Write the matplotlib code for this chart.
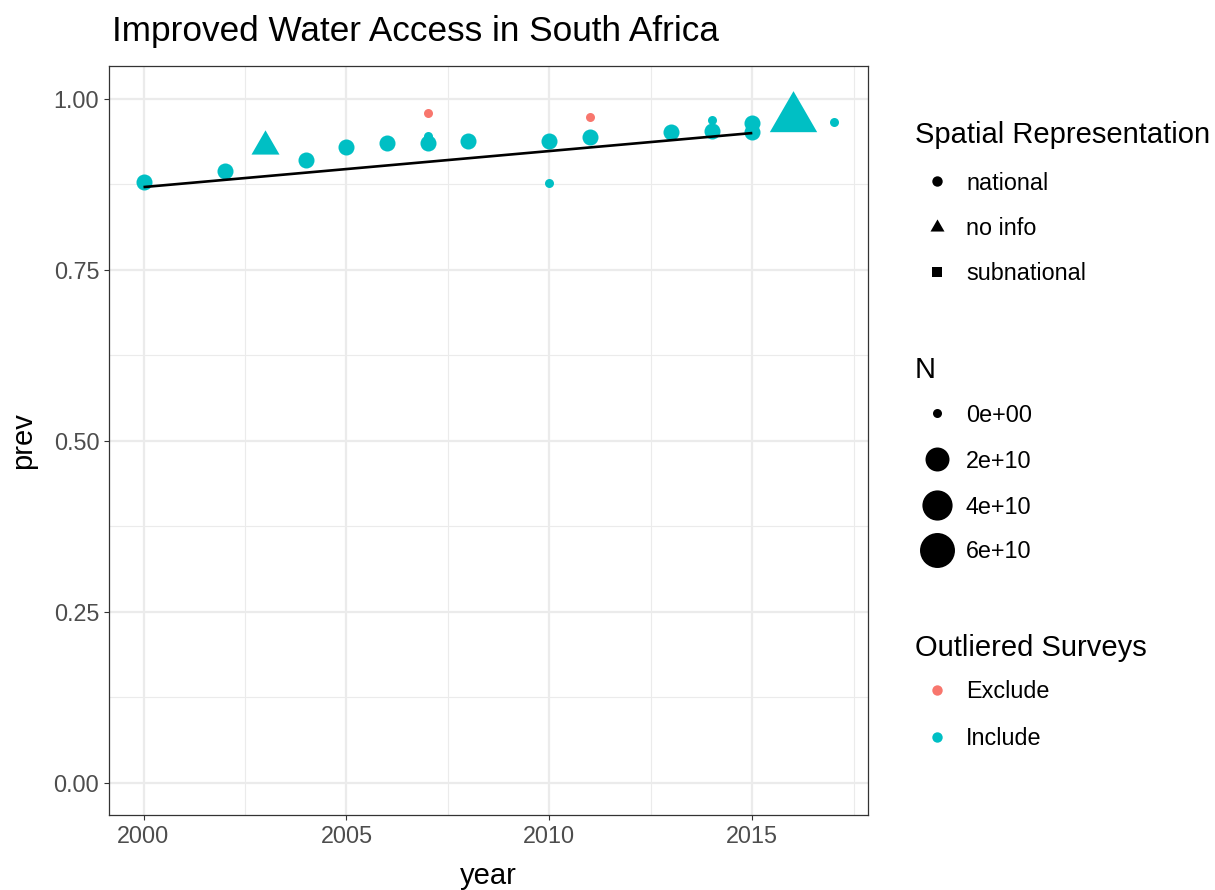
import numpy as np
import matplotlib
matplotlib.use("Agg")
import matplotlib.pyplot as plt
from matplotlib.path import Path
from matplotlib.markers import MarkerStyle
from matplotlib.ticker import FixedLocator

plt.rcParams['font.family'] = ['Liberation Sans', 'DejaVu Sans']

# ---------------- data ----------------
year = [2000, 2002, 2003, 2004, 2005, 2006, 2007, 2007, 2007, 2008, 2010,
        2010, 2011, 2011, 2013, 2014, 2014, 2015, 2015, 2016, 2017]
prev = [0.879, 0.895, 0.931, 0.910, 0.930, 0.935, 0.946, 0.936, 0.979, 0.938, 0.939,
        0.877, 0.944, 0.974, 0.951, 0.953, 0.969, 0.964, 0.951, 0.9725, 0.966]
n_obs = [4.4e9, 4.4e9, 1.24e10, 4.4e9, 4.4e9, 4.4e9, 0, 4.4e9, 0, 4.4e9, 4.4e9,
         0, 4.4e9, 0, 4.4e9, 4.4e9, 0, 4.4e9, 4.4e9, 6.1e10, 0]
spatial = ['national', 'national', 'no info', 'national', 'national', 'national',
           'national', 'national', 'national', 'national', 'national', 'national',
           'national', 'national', 'national', 'national', 'national', 'national',
           'national', 'no info', 'national']
outlier = ['Include', 'Include', 'Include', 'Include', 'Include', 'Include',
           'Include', 'Include', 'Exclude', 'Include', 'Include', 'Include',
           'Include', 'Exclude', 'Include', 'Include', 'Include', 'Include',
           'Include', 'Include', 'Include']

fit_year = [2000, 2015]
fit_prev = [0.871, 0.950]

shape_levels = ['national', 'no info', 'subnational']
size_breaks = [0, 2e10, 4e10, 6e10]
size_labels = ['0e+00', '2e+10', '4e+10', '6e+10']
outlier_levels = ['Exclude', 'Include']
outlier_colors = {'Exclude': '#F8766D', 'Include': '#00BFC4'}

xticks = [2000, 2005, 2010, 2015]
yticks = [0.00, 0.25, 0.50, 0.75, 1.00]

# ---------------- styling helpers ----------------
W, H, DPI = 1215, 890, 100
PX = 72.0 / DPI  # points per pixel

sq3 = np.sqrt(3) / 2
TRI = MarkerStyle(Path([(0, 1), (-sq3, -0.5), (sq3, -0.5), (0, 1)],
                       [Path.MOVETO, Path.LINETO, Path.LINETO, Path.CLOSEPOLY]))
MARK = {'national': 'o', 'no info': TRI, 'subnational': 's'}
SCALE = {'national': 1.0, 'no info': 1.555, 'subnational': 0.886}


def diam_px(n):
    return 9.0 + 10.6 * np.sqrt(n / 1e10)


def marker_area(shape, d_px):
    ms = d_px * SCALE[shape] * PX
    return ms ** 2


fig = plt.figure(figsize=(W / DPI, H / DPI), dpi=DPI)
L, R, T, B = 109, 868, 66, 815
ax = fig.add_axes([L / W, 1 - B / H, (R - L) / W, (B - T) / H])

# points
for x, y, n, sp, o in zip(year, prev, n_obs, spatial, outlier):
    ax.scatter([x], [y], s=marker_area(sp, diam_px(n)), marker=MARK[sp],
               color=outlier_colors[o], linewidths=0, zorder=3)

ax.plot(fit_year, fit_prev, color='black', lw=1.9, zorder=4,
        solid_capstyle='butt')

ax.set_xlim(1999.15, 2017.85)
ax.set_ylim(-0.047, 1.048)
ax.set_xticks(xticks)
ax.set_xticklabels([str(t) for t in xticks])
ax.set_yticks(yticks)
ax.set_yticklabels([f'{t:.2f}' for t in yticks])
ax.xaxis.set_minor_locator(FixedLocator([2002.5, 2007.5, 2012.5, 2017.5]))
ax.yaxis.set_minor_locator(FixedLocator([0.125, 0.375, 0.625, 0.875]))
ax.grid(which='major', color='#EBEBEB', lw=1.6, zorder=0)
ax.grid(which='minor', color='#EBEBEB', lw=0.8, zorder=0)
ax.set_axisbelow(True)
ax.tick_params(which='minor', length=0)
ax.tick_params(which='major', length=3.5, width=0.8, color='#333333',
               labelcolor='#4D4D4D', labelsize=16.8, pad=3.5)
for s in ax.spines.values():
    s.set_color('#333333')
    s.set_linewidth(0.9)

ax.set_xlabel('year', fontsize=21, labelpad=10)
ax.set_ylabel('prev', fontsize=21, labelpad=12)

fig.text(112 / W, 1 - 41 / H, 'Improved Water Access in South Africa',
         fontsize=25.3, ha='left', va='baseline')

# ---------------- legends (pixel coordinates) ----------------
lax = fig.add_axes([0, 0, 1, 1], facecolor='none')
lax.set_xlim(0, W)
lax.set_ylim(H, 0)
lax.axis('off')

KX, TX, TTX = 937, 966, 915
key_d = 10.4
LT, LX = 21, 16.8

lax.text(TTX, 143, 'Spatial Representation', fontsize=LT, va='baseline', ha='left')
for lvl, yy in zip(shape_levels, [181, 226.5, 272]):
    lax.scatter([KX], [yy], s=marker_area(lvl, key_d), marker=MARK[lvl],
                color='black', linewidths=0)
    lax.text(TX, yy + 2, lvl, fontsize=LX, va='center', ha='left')

lax.text(TTX, 378, 'N', fontsize=LT, va='baseline', ha='left')
for b, lab, yy in zip(size_breaks, size_labels, [413, 459, 505, 550]):
    lax.scatter([KX], [yy], s=marker_area('national', diam_px(b)), marker='o',
                color='black', linewidths=0)
    lax.text(TX, yy + 2, lab, fontsize=LX, va='center', ha='left')

lax.text(TTX, 656, 'Outliered Surveys', fontsize=LT, va='baseline', ha='left')
for lvl, yy in zip(outlier_levels, [690, 736.5]):
    lax.scatter([KX], [yy], s=marker_area('national', key_d), marker='o',
                color=outlier_colors[lvl], linewidths=0)
    lax.text(TX, yy + 2, lvl, fontsize=LX, va='center', ha='left')

fig.savefig('out.png', dpi=DPI, facecolor='white')
